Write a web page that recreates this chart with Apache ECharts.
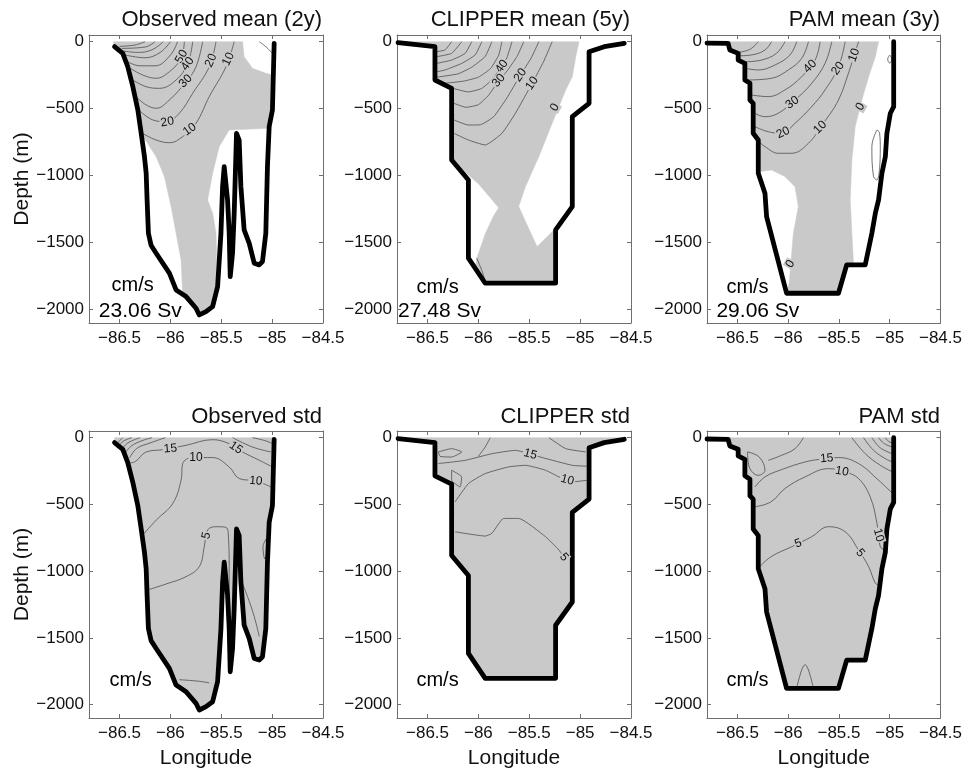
<!DOCTYPE html>
<html><head><meta charset="utf-8">
<script src="https://cdn.jsdelivr.net/npm/echarts@6/dist/echarts.min.js"></script>
<style>html,body{margin:0;padding:0;background:#fff}#chart{width:965px;height:770px}</style>
</head><body><div id="chart"></div>
<script>
// ---------- text ----------
const panelTitles = ['Observed mean (2y)', 'CLIPPER mean (5y)', 'PAM mean (3y)', 'Observed std', 'CLIPPER std', 'PAM std'];
const xTicks = [-86.5, -86, -85.5, -85, -84.5];
const yTicks = [0, -500, -1000, -1500, -2000];
const unitText = 'cm/s';
const transportText = ['23.06 Sv', '27.48 Sv', '29.06 Sv'];
const unitPos = [[-86.578, -1823], [-86.609, -1834], [-86.609, -1834], [-86.598, -1818], [-86.609, -1818], [-86.609, -1818]];
const transportPos = [[-86.703, -2010], [-86.79, -2011], [-86.707, -2011]];

// ---------- bathymetry (lon, depth m) ----------
const outlineObs = [[-86.549,-37],[-86.468,-87],[-86.419,-187],[-86.369,-336],[-86.32,-510],[-86.287,-684],[-86.255,-858],[-86.238,-982],[-86.229,-1181],[-86.216,-1430],[-86.19,-1520],[-86.14,-1579],[-86.01,-1728],[-85.944,-1853],[-85.846,-1903],[-85.748,-1990],[-85.716,-2040],[-85.65,-2015],[-85.585,-1978],[-85.536,-1828],[-85.503,-1430],[-85.487,-1082],[-85.471,-933],[-85.438,-1181],[-85.422,-1430],[-85.412,-1754],[-85.389,-1579],[-85.373,-1281],[-85.35,-684],[-85.324,-734],[-85.307,-1082],[-85.275,-1405],[-85.225,-1505],[-85.176,-1654],[-85.127,-1666],[-85.095,-1641],[-85.062,-1430],[-85.046,-933],[-85.029,-634],[-84.997,-510],[-84.98,-12]];
const outlineClip = [[-86.79,-7],[-86.427,-37],[-86.427,-286],[-86.263,-348],[-86.263,-883],[-86.098,-1032],[-86.098,-1616],[-85.933,-1803],[-85.241,-1803],[-85.241,-1405],[-85.077,-1231],[-85.077,-560],[-84.912,-460],[-84.912,-75],[-84.764,-37],[-84.566,-12]];
const outlinePam = [[-86.8,-10],[-86.592,-12],[-86.575,-62],[-86.493,-87],[-86.493,-137],[-86.427,-162],[-86.427,-286],[-86.377,-311],[-86.377,-435],[-86.345,-460],[-86.345,-684],[-86.295,-734],[-86.295,-982],[-86.229,-1131],[-86.213,-1306],[-86.016,-1878],[-85.505,-1878],[-85.424,-1666],[-85.241,-1666],[-85.176,-1430],[-85.142,-1281],[-85.11,-1181],[-85.077,-982],[-85.043,-858],[-85.028,-684],[-84.994,-534],[-84.961,-485],[-84.961,0]];

// ---------- positive-velocity (grey) regions of the mean sections ----------
const posObs = [[-86.5,0],[-85.291,0],[-85.275,-112],[-85.193,-199],[-85.062,-236],[-84.99,-249],[-84.996,-435],[-85.0,-510],[-85.03,-634],[-85.046,-647],[-85.422,-659],[-85.52,-783],[-85.585,-982],[-85.634,-1181],[-85.585,-1281],[-85.552,-1430],[-85.546,-1579],[-85.552,-1828],[-85.585,-1978],[-85.65,-2015],[-85.716,-2040],[-85.748,-1990],[-85.846,-1903],[-85.88,-1878],[-85.895,-1629],[-85.944,-1430],[-85.993,-1231],[-86.059,-1007],[-86.14,-858],[-86.287,-684],[-86.32,-510],[-86.369,-336],[-86.419,-187],[-86.468,-87],[-86.549,-37],[-86.56,0]];
const posClip = [[-86.79,0],[-85.011,0],[-85.043,-112],[-85.077,-261],[-85.142,-360],[-85.275,-609],[-85.406,-858],[-85.538,-1082],[-85.604,-1231],[-85.423,-1530],[-85.258,-1405],[-85.241,-1803],[-85.933,-1803],[-86.03,-1690],[-86.016,-1616],[-85.93,-1430],[-85.85,-1300],[-85.80,-1240],[-85.90,-1150],[-86.0,-1060],[-86.15,-960],[-86.21,-930],[-86.263,-883],[-86.263,-348],[-86.427,-286],[-86.427,-37],[-86.79,-7]];
const posPam = [[-86.8,0],[-85.11,0],[-85.142,-112],[-85.208,-261],[-85.275,-435],[-85.34,-634],[-85.373,-883],[-85.389,-1181],[-85.373,-1430],[-85.357,-1654],[-85.36,-1666],[-85.424,-1666],[-85.505,-1878],[-86.016,-1878],[-85.99,-1800],[-85.966,-1579],[-85.949,-1430],[-85.9,-1231],[-85.933,-1082],[-86.033,-1007],[-86.164,-957],[-86.295,-970],[-86.295,-734],[-86.345,-684],[-86.345,-460],[-86.377,-435],[-86.377,-311],[-86.427,-286],[-86.427,-162],[-86.493,-137],[-86.493,-87],[-86.575,-62],[-86.592,-12],[-86.8,-10]];

// ---------- contour lines ----------
const meanObsContours = [
  [[-85.373,0],[-85.454,-187],[-85.618,-410],[-85.748,-609],[-85.879,-709],[-86.01,-754],[-86.14,-734],[-86.275,-684]],
  [[-85.552,0],[-85.618,-187],[-85.781,-385],[-85.912,-534],[-86.042,-597],[-86.173,-584],[-86.31,-510]],
  [[-85.683,0],[-85.748,-187],[-85.846,-299],[-86.01,-435],[-86.14,-497],[-86.238,-472],[-86.34,-410]],
  [[-85.781,0],[-85.83,-161],[-85.944,-286],[-86.108,-348],[-86.238,-336],[-86.36,-290]],
  [[-85.863,0],[-85.895,-124],[-86.01,-224],[-86.14,-273],[-86.271,-249],[-86.39,-200]],
  [[-85.93,0],[-86.0,-100],[-86.15,-180],[-86.3,-180],[-86.42,-150]],
  [[-86.0,0],[-86.1,-80],[-86.25,-120],[-86.44,-100]],
  [[-86.07,0],[-86.18,-60],[-86.32,-80],[-86.46,-70]],
  [[-86.15,0],[-86.25,-40],[-86.48,-50]],
  [[-86.25,0],[-86.35,-25],[-86.5,-35]],
  [[-85.127,0],[-85.062,-37],[-84.997,-87]]
];
const meanClipContours = [
  [[-85.275,0],[-85.36,-150],[-85.472,-311],[-85.636,-534],[-85.769,-684],[-85.933,-771],[-86.098,-734],[-86.24,-684]],
  [[-85.406,0],[-85.48,-120],[-85.587,-249],[-85.72,-420],[-85.85,-560],[-85.98,-620],[-86.1,-622],[-86.24,-584]],
  [[-85.554,0],[-85.62,-110],[-85.72,-220],[-85.80,-290],[-85.9,-400],[-86.0,-470],[-86.12,-490],[-86.24,-460]],
  [[-85.67,0],[-85.72,-120],[-85.78,-190],[-85.86,-280],[-85.97,-350],[-86.1,-375],[-86.24,-350]],
  [[-85.769,0],[-85.8,-100],[-85.88,-200],[-86.0,-265],[-86.15,-295],[-86.33,-310]],
  [[-85.868,0],[-85.933,-110],[-86.065,-190],[-86.2,-240],[-86.41,-265]],
  [[-85.966,0],[-86.032,-99],[-86.164,-162],[-86.328,-211],[-86.41,-225]],
  [[-86.065,0],[-86.131,-87],[-86.263,-137],[-86.41,-162]],
  [[-86.164,0],[-86.263,-87],[-86.41,-112]],
  [[-86.263,0],[-86.328,-62],[-86.41,-74]],
  [[-86.016,-1616],[-85.96,-1720],[-85.933,-1790]]
];
const meanPamContours = [
  [[-85.307,0],[-85.35,-100],[-85.40,-220],[-85.505,-435],[-85.654,-609],[-85.801,-758],[-85.966,-833],[-86.098,-833],[-86.229,-783],[-86.29,-746]],
  [[-85.439,0],[-85.505,-187],[-85.637,-360],[-85.769,-485],[-85.933,-609],[-86.065,-684],[-86.197,-672],[-86.33,-634]],
  [[-85.571,0],[-85.637,-161],[-85.769,-311],[-85.933,-435],[-86.098,-534],[-86.229,-560],[-86.33,-534]],
  [[-85.686,0],[-85.735,-137],[-85.867,-261],[-86.032,-360],[-86.197,-410],[-86.36,-398]],
  [[-85.801,0],[-85.867,-124],[-85.999,-211],[-86.164,-273],[-86.4,-286]],
  [[-85.917,0],[-85.983,-99],[-86.131,-174],[-86.295,-211],[-86.42,-199]],
  [[-86.032,0],[-86.116,-87],[-86.263,-137],[-86.42,-150]],
  [[-86.164,0],[-86.229,-62],[-86.362,-99],[-86.48,-105]],
  [[-86.295,0],[-86.377,-57],[-86.49,-80]],
  [[-85.126,-659],[-85.176,-783],[-85.16,-1007],[-85.126,-1032],[-85.093,-808],[-85.10,-680],[-85.126,-659]],
  [[-85.0,-100],[-85.02,-130],[-85.0,-160],[-84.98,-130],[-85.0,-100]]
];
const stdObsContours = [
  [[-86.42,-190],[-86.353,-182],[-86.238,-107],[-86.075,-90],[-85.846,-57],[-85.585,-15],[-85.422,-45],[-85.291,-107],[-85.127,-169],[-84.997,-219]],
  [[-86.287,-742],[-86.14,-618],[-85.977,-493],[-85.895,-319],[-85.879,-194],[-85.781,-149],[-85.585,-149],[-85.422,-219],[-85.324,-306],[-85.16,-324],[-85.013,-369]],
  [[-86.222,-1140],[-86.042,-1096],[-85.846,-1041],[-85.716,-966],[-85.667,-817],[-85.634,-692],[-85.552,-667],[-85.454,-672],[-85.428,-767],[-85.422,-966],[-85.422,-1166]],
  [[-85.307,-1066],[-85.242,-1190],[-85.176,-1340],[-85.127,-1489]],
  [[-85.912,-1813],[-85.716,-1825],[-85.618,-1837]],
  [[-86.40,-150],[-86.33,-80],[-86.2,-40],[-86.05,0]],
  [[-86.44,-110],[-86.38,-60],[-86.27,-20],[-86.18,0]],
  [[-86.47,-80],[-86.42,-40],[-86.3,0]],
  [[-86.5,-55],[-86.46,-25],[-86.38,0]],
  [[-86.52,-40],[-86.47,0]],
  [[-85.389,0],[-85.193,-70],[-85.013,-107]],
  [[-85.193,0],[-85.062,-24],[-84.997,-45]],
  [[-85.06,-760],[-85.09,-820],[-85.07,-910],[-85.05,-840],[-85.06,-760]]
];
const stdClipContours = [
  [[-86.394,-194],[-86.13,-170],[-85.868,-120],[-85.636,-95],[-85.373,-149],[-85.077,-207],[-84.929,-214]],
  [[-86.229,-481],[-86.098,-344],[-85.933,-269],[-85.703,-219],[-85.538,-207],[-85.34,-244],[-85.208,-294],[-85.077,-331],[-84.929,-319]],
  [[-86.229,-705],[-85.933,-737],[-85.868,-717],[-85.752,-605],[-85.604,-605],[-85.34,-742],[-85.208,-842],[-85.142,-916]],
  [[-85.883,0],[-85.933,-70],[-86.0,-140]],
  [[-85.307,0],[-85.142,-82],[-84.945,-107]],
  [[-86.394,-107],[-86.263,-82],[-86.164,-107],[-86.263,-145],[-86.377,-140],[-86.394,-107]],
  [[-86.263,-244],[-86.164,-294],[-86.18,-369],[-86.263,-319],[-86.263,-244]]
];
const stdPamContours = [
  [[-86.328,-369],[-86.229,-294],[-86.065,-239],[-85.834,-182],[-85.686,-162],[-85.505,-149],[-85.307,-194],[-85.11,-319],[-84.971,-418]],
  [[-86.328,-518],[-86.17,-481],[-86.032,-381],[-85.834,-294],[-85.604,-232],[-85.439,-257],[-85.307,-306],[-85.192,-444],[-85.126,-642],[-85.093,-817],[-85.044,-842]],
  [[-86.295,-978],[-86.17,-892],[-85.966,-817],[-85.769,-742],[-85.604,-667],[-85.439,-705],[-85.307,-842],[-85.208,-966],[-85.142,-1090],[-85.11,-1103]],
  [[-85.373,0],[-85.241,-120],[-85.093,-207],[-84.971,-257]],
  [[-85.258,0],[-85.159,-95],[-85.044,-157],[-84.971,-182]],
  [[-85.176,0],[-85.103,-70],[-85.018,-107],[-84.971,-120]],
  [[-85.11,0],[-85.053,-45],[-84.971,-70]],
  [[-85.044,0],[-85.011,-28],[-84.971,-40]],
  [[-86.401,-107],[-86.286,-145],[-86.229,-244],[-86.295,-282],[-86.384,-219],[-86.401,-107]],
  [[-85.851,0],[-85.933,-82],[-86.065,-132],[-86.197,-170]],
  [[-85.917,-1878],[-85.834,-1700],[-85.752,-1878]]
];

// ---------- contour labels (lon, depth, level) and their angles ----------
const meanObsLabels = [[-85.89,-112,'50'],[-85.83,-165,'40'],[-85.85,-295,'30'],[-85.6,-140,'20'],[-85.43,-130,'10'],[-86.03,-600,'20'],[-85.81,-656,'10']];
const meanObsAngles = [60, 55, 45, 65, 65, 10, 35];
const meanClipLabels = [[-85.77,-185,'40'],[-85.80,-290,'30'],[-85.587,-249,'20'],[-85.472,-311,'10'],[-85.25,-490,'0']];
const meanClipAngles = [55, 50, 55, 55, 60];
const meanPamLabels = [[-85.35,-100,'10'],[-85.51,-200,'20'],[-85.785,-184,'40'],[-85.96,-455,'30'],[-86.05,-680,'20'],[-85.686,-640,'10'],[-85.29,-485,'0'],[-85.98,-1660,'0']];
const meanPamAngles = [70, 55, 45, 35, 25, 45, 60, 60];
const stdObsLabels = [[-86.0,-82,'15'],[-85.356,-76,'15'],[-85.748,-149,'10'],[-85.16,-324,'10'],[-85.645,-735,'5']];
const stdObsAngles = [5, -35, 0, -5, 75];
const stdClipLabels = [[-85.49,-125,'15'],[-85.126,-317,'10'],[-85.16,-896,'5']];
const stdClipAngles = [-15, -15, -50];
const stdPamLabels = [[-85.62,-155,'15'],[-85.47,-253,'10'],[-85.11,-730,'10'],[-85.9,-792,'5'],[-85.29,-863,'5']];
const stdPamAngles = [5, -10, -75, 20, -50];

// ---------- build ----------
const GREY = '#c9c9c9';
const AXC = '#6f6f6f';
const FONT = '"Liberation Sans", Arial, Helvetica, sans-serif';
const gridLefts = [89, 397, 707];
const gridTops = [35, 431];
const gridW = 234, gridH = 288;
const W = 965;

const panels = [
  {outline: outlineObs, fill: posObs, contours: meanObsContours, labels: meanObsLabels, angles: meanObsAngles},
  {outline: outlineClip, fill: posClip, contours: meanClipContours, labels: meanClipLabels, angles: meanClipAngles},
  {outline: outlinePam, fill: posPam, contours: meanPamContours, labels: meanPamLabels, angles: meanPamAngles},
  {outline: outlineObs, fill: null, contours: stdObsContours, labels: stdObsLabels, angles: stdObsAngles},
  {outline: outlineClip, fill: null, contours: stdClipContours, labels: stdClipLabels, angles: stdClipAngles},
  {outline: outlinePam, fill: null, contours: stdPamContours, labels: stdPamLabels, angles: stdPamAngles}
];
const fmt = v => (v < 0 ? '\u2212' + String(Math.abs(v)) : String(v));

const grid = [], xAxis = [], yAxis = [], title = [], series = [];
panels.forEach((p, i) => {
  const col = i % 3, row = Math.floor(i / 3);
  grid.push({left: gridLefts[col], top: gridTops[row], width: gridW, height: gridH, containLabel: false});
  title.push({text: panelTitles[i], right: W - (gridLefts[col] + gridW) + 1, top: row === 0 ? 9 : 406, padding: 0,
    textStyle: {fontSize: 22, fontWeight: 'normal', color: '#111', fontFamily: FONT}});
});
const axLine = {show: true, onZero: false, lineStyle: {color: AXC, width: 1}};
for (let i = 0; i < 6; i++) {
  const row = Math.floor(i / 3), col = i % 3;
  xAxis.push({gridIndex: i, type: 'value', min: -86.8, max: -84.5, position: 'bottom',
    axisLine: axLine, splitLine: {show: false},
    axisTick: {show: true, inside: true, length: 4, customValues: xTicks, lineStyle: {color: AXC}},
    axisLabel: {customValues: xTicks, formatter: fmt, fontSize: 17, color: '#111', margin: 7, fontFamily: FONT},
    name: row === 1 ? 'Longitude' : '', nameLocation: 'middle', nameGap: 30,
    nameTextStyle: {fontSize: 21, color: '#111', fontFamily: FONT}});
  yAxis.push({gridIndex: i, type: 'value', min: -2100, max: 50, position: 'left',
    axisLine: axLine, splitLine: {show: false},
    axisTick: {show: true, inside: true, length: 4, customValues: yTicks, lineStyle: {color: AXC}},
    axisLabel: {customValues: yTicks, formatter: fmt, fontSize: 17, color: '#111', margin: 5, fontFamily: FONT},
    name: col === 0 ? 'Depth (m)' : '', nameLocation: 'middle', nameRotate: 90, nameGap: 50,
    nameTextStyle: {fontSize: 21, color: '#111', fontFamily: FONT}});
}
for (let i = 0; i < 6; i++) {
  xAxis.push({gridIndex: i, type: 'value', min: -86.8, max: -84.5, position: 'top',
    axisLine: axLine, splitLine: {show: false}, axisLabel: {show: false},
    axisTick: {show: true, inside: true, length: 4, customValues: xTicks, lineStyle: {color: AXC}}});
  yAxis.push({gridIndex: i, type: 'value', min: -2100, max: 50, position: 'right',
    axisLine: axLine, splitLine: {show: false}, axisLabel: {show: false},
    axisTick: {show: true, inside: true, length: 4, customValues: yTicks, lineStyle: {color: AXC}}});
}

panels.forEach((p, i) => {
  const fillPts = p.fill ? p.fill : p.outline.concat([[p.outline[p.outline.length - 1][0], 0], [p.outline[0][0], 0]]);
  series.push({type: 'custom', xAxisIndex: i, yAxisIndex: i, silent: true, z: 1, clip: true,
    data: fillPts,
    renderItem: (params, api) => {
      if (params.dataIndex !== 0) return null;
      return {type: 'polygon', shape: {points: fillPts.map(q => api.coord(q))},
        style: {fill: GREY, stroke: GREY, lineWidth: 0.5}};
    }});
  const smooth = (i % 3 === 1) ? 0.15 : 0.4;
  p.contours.forEach(c => {
    series.push({type: 'line', xAxisIndex: i, yAxisIndex: i, data: c, smooth: smooth, symbol: 'none',
      silent: true, z: 2, lineStyle: {color: '#4d4d4d', width: 0.8}});
  });
  series.push({type: 'line', xAxisIndex: i, yAxisIndex: i, data: p.outline, symbol: 'none', silent: true, z: 4,
    lineStyle: {color: '#000', width: 4.8, join: 'round', cap: 'round'}});
  series.push({type: 'scatter', xAxisIndex: i, yAxisIndex: i, symbolSize: 0, silent: true, z: 5,
    itemStyle: {opacity: 1},
    data: p.labels.map((l, k) => ({name: l[2], value: [l[0], l[1]], label: {rotate: p.angles[k]}})),
    label: {show: true, position: 'inside', formatter: '{b}', fontSize: 12, color: '#111', opacity: 1, fontFamily: FONT,
      backgroundColor: GREY, padding: [0, 1]}});
  const txt = [{name: unitText, value: unitPos[i], label: {fontSize: 20}}];
  if (i < 3) txt.push({name: transportText[i], value: transportPos[i], label: {fontSize: 21}});
  series.push({type: 'scatter', xAxisIndex: i, yAxisIndex: i, symbolSize: 0, silent: true, z: 6, data: txt,
    itemStyle: {opacity: 1},
    label: {show: true, position: 'right', distance: 0, formatter: '{b}', color: '#000', opacity: 1, fontFamily: FONT}});
});

const chart = echarts.init(document.getElementById('chart'), null, {renderer: 'canvas'});
chart.setOption({animation: false, backgroundColor: '#fff', textStyle: {fontFamily: FONT},
  title, grid, xAxis, yAxis, series});
</script></body></html>
